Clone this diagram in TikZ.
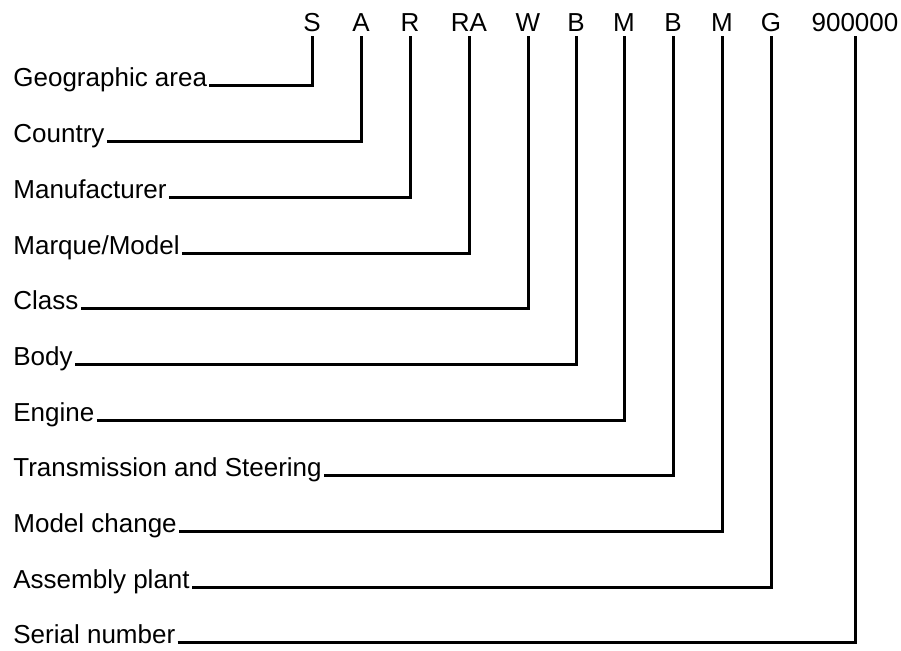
\documentclass[tikz,border=0pt]{standalone}
\usepackage{fontspec}
\setmainfont{Liberation Sans}
\begin{document}
\begin{tikzpicture}[x=0.5pt,y=-0.5pt,
  lab/.style={inner sep=0pt,anchor=base west,font=\fontsize{13}{15}\selectfont},
  code/.style={inner sep=0pt,anchor=base,font=\fontsize{13}{15}\selectfont},
  conn/.style={line width=1.5pt,line cap=butt,line join=miter}]
\useasboundingbox (0,0) rectangle (901,651);
% code letters
\node[code] (c1) at (312,32) {S};
\node[code] (c2) at (361,32) {A};
\node[code] (c3) at (410,32) {R};
\node[code] (c4) at (469,32) {RA};
\node[code] (c5) at (528,32) {W};
\node[code] (c6) at (576,32) {B};
\node[code] (c7) at (624,32) {M};
\node[code] (c8) at (673,32) {B};
\node[code] (c9) at (722,32) {M};
\node[code] (c10) at (771,32) {G};
\node[code] (c11) at (855,32) {900000};
% labels
\node[lab] (l1) at (13,87) {Geographic area};
\node[lab] (l2) at (13,142.7) {Country};
\node[lab] (l3) at (13,198.4) {Manufacturer};
\node[lab] (l4) at (13,254.1) {Marque/Model};
\node[lab] (l5) at (13,309.8) {Class};
\node[lab] (l6) at (13,365.5) {Body};
\node[lab] (l7) at (13,421.2) {Engine};
\node[lab] (l8) at (13,476.9) {Transmission and Steering};
\node[lab] (l9) at (13,532.6) {Model change};
\node[lab] (l10) at (13,588.3) {Assembly plant};
\node[lab] (l11) at (13,644) {Serial number};
% connectors
\foreach \i in {1,...,11}{
  \draw[conn] ([xshift=1pt,yshift=0.5pt]l\i.base east) -| ([yshift=-2pt]c\i.base);
}
\end{tikzpicture}
\end{document}
